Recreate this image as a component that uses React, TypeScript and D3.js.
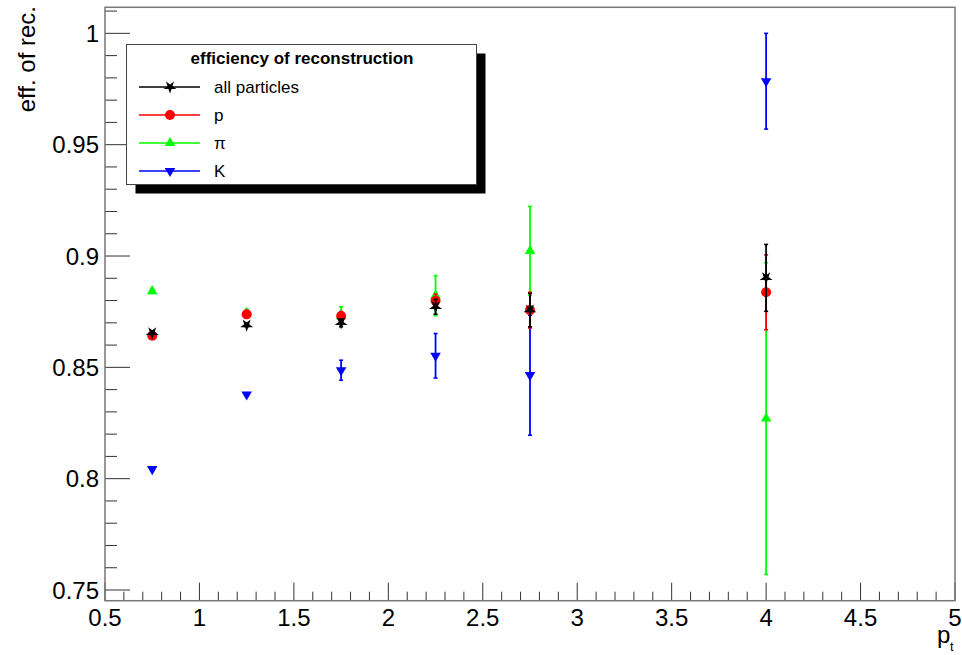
import React from "react";
import * as d3 from "d3";

// transverse momentum bins (GeV/c)
const pt = [0.75, 1.25, 1.75, 2.25, 2.75, 4.0];

// reconstruction efficiency per species, with statistical errors
const allEff = [0.8655, 0.869, 0.87, 0.8772, 0.8757, 0.8902];
const allErr = [0.0008, 0.0008, 0.0018, 0.0033, 0.0075, 0.015];
const pEff = [0.8642, 0.8738, 0.8731, 0.8799, 0.8757, 0.8837];
const pErr = [0.0008, 0.001, 0.002, 0.003, 0.008, 0.0168];
const piEff = [0.8842, 0.8745, 0.873, 0.8822, 0.9023, 0.827];
const piErr = [0.001, 0.0015, 0.0042, 0.009, 0.02, 0.07];
const kEff = [0.8043, 0.8378, 0.8487, 0.8552, 0.8465, 0.9785];
const kErr = [0.0008, 0.0008, 0.0045, 0.01, 0.027, 0.0215];

const xMajor = [0.5, 1, 1.5, 2, 2.5, 3, 3.5, 4, 4.5, 5];
const yMajor = [0.75, 0.8, 0.85, 0.9, 0.95, 1];

const legendTitle = "efficiency of reconstruction";

type Marker = "star" | "circle" | "up" | "down";
interface Series {
  name: string;
  color: string;
  marker: Marker;
  eff: number[];
  err: number[];
}

const series: Series[] = [
  { name: "all particles", color: "#000000", marker: "star", eff: allEff, err: allErr },
  { name: "p", color: "#ff0000", marker: "circle", eff: pEff, err: pErr },
  { name: "π", color: "#00ff00", marker: "up", eff: piEff, err: piErr },
  { name: "K", color: "#0000ff", marker: "down", eff: kEff, err: kErr },
];

// drawing order: kaons first, all particles on top
const drawOrder = [3, 2, 1, 0];

const W = 962;
const H = 655;
const x = d3.scaleLinear().domain([0.5, 5]).range([105, 955]);
const y = d3.scaleLinear().domain([0.7452, 1.0117]).range([600.7, 7.3]);

const FONT = "'Liberation Sans', Arial, Helvetica, sans-serif";

const triPath = d3.symbol(d3.symbolTriangle, 48)() as string;
const starPath = d3.symbol(d3.symbolStar, 52)() as string;

function MarkerShape({ m, cx, cy, color }: { m: Marker; cx: number; cy: number; color: string }) {
  if (m === "circle") return <circle cx={cx} cy={cy} r={5} fill={color} />;
  if (m === "up") return <path d={triPath} transform={`translate(${cx},${cy})`} fill={color} />;
  if (m === "down")
    return <path d={triPath} transform={`translate(${cx},${cy}) rotate(180)`} fill={color} />;
  return <path d={starPath} transform={`translate(${cx},${cy}) rotate(180)`} fill={color} />;
}

export default function App() {
  const xMinor = d3.range(0.5, 5.0001, 0.1).map((v) => +v.toFixed(2));
  const yMinor = d3.range(0.75, 1.0117, 0.01).map((v) => +v.toFixed(3));
  const fmt = (v: number) => String(+v.toFixed(2));
  const [x0, x1] = x.range();
  const [y0, y1] = y.range();

  return (
    <svg
      width={W}
      height={H}
      style={{ position: "absolute", left: 0, top: 0, background: "#fff" }}
      fontFamily={FONT}
    >
      <rect x={0} y={0} width={W} height={H} fill="#fff" />

      {/* ticks */}
      {yMinor.map((v) => {
        const major = yMajor.some((m) => Math.abs(m - v) < 1e-6);
        return (
          <line
            key={"yt" + v}
            x1={x0}
            x2={x0 + (major ? 25 : 12)}
            y1={y(v)}
            y2={y(v)}
            stroke="#333"
            strokeWidth={1}
          />
        );
      })}
      {xMinor.map((v) => {
        const major = xMajor.some((m) => Math.abs(m - v) < 1e-6);
        return (
          <line
            key={"xt" + v}
            x1={x(v)}
            x2={x(v)}
            y1={y0}
            y2={y0 - (major ? 18 : 9)}
            stroke="#333"
            strokeWidth={1}
          />
        );
      })}

      {/* frame */}
      <rect
        x={x0}
        y={y1}
        width={x1 - x0}
        height={y0 - y1}
        fill="none"
        stroke="#777"
        strokeWidth={1.5}
      />

      {/* tick labels */}
      {yMajor.map((v) => (
        <text key={"yl" + v} x={99} y={y(v) + 8.5} fontSize={24} textAnchor="end" fill="#000">
          {fmt(v)}
        </text>
      ))}
      {xMajor.map((v) => (
        <text key={"xl" + v} x={x(v)} y={626} fontSize={24} textAnchor="middle" fill="#000">
          {fmt(v)}
        </text>
      ))}

      {/* axis titles */}
      <text transform="translate(35,6) rotate(-90)" fontSize={24} textAnchor="end" fill="#000">
        eff. of rec.
      </text>
      <text x={937} y={643} fontSize={24} fill="#000">
        p
      </text>
      <text x={950} y={651} fontSize={13} fill="#000">
        t
      </text>

      {/* data */}
      {drawOrder.map((si) => {
        const s = series[si];
        return (
          <g key={s.name}>
            {pt.map((p, i) => {
              const cx = x(p);
              const hi = y(s.eff[i] + s.err[i]);
              const lo = y(s.eff[i] - s.err[i]);
              return (
                <g key={i}>
                  <line x1={cx} x2={cx} y1={hi} y2={lo} stroke={s.color} strokeWidth={1.8} />
                  <line x1={cx - 2} x2={cx + 2} y1={hi} y2={hi} stroke={s.color} strokeWidth={1.6} />
                  <line x1={cx - 2} x2={cx + 2} y1={lo} y2={lo} stroke={s.color} strokeWidth={1.6} />
                </g>
              );
            })}
            {pt.map((p, i) => (
              <MarkerShape key={"m" + i} m={s.marker} cx={x(p)} cy={y(s.eff[i])} color={s.color} />
            ))}
          </g>
        );
      })}

      {/* legend */}
      <rect x={135.5} y={53.5} width={350} height={140} fill="#000" />
      <rect x={126.5} y={44.5} width={350} height={140} fill="#fff" stroke="#444" strokeWidth={1} />
      <text x={302} y={64} fontSize={17} fontWeight="bold" textAnchor="middle" fill="#000">
        {legendTitle}
      </text>
      {series.map((s, i) => {
        const ly = 87 + i * 28;
        return (
          <g key={"lg" + s.name}>
            <line x1={139} x2={200} y1={ly} y2={ly} stroke={s.color} strokeWidth={1.6} />
            <MarkerShape m={s.marker} cx={170} cy={ly} color={s.color} />
            <text x={214} y={ly + 6} fontSize={17} fill="#000">
              {s.name}
            </text>
          </g>
        );
      })}
    </svg>
  );
}
